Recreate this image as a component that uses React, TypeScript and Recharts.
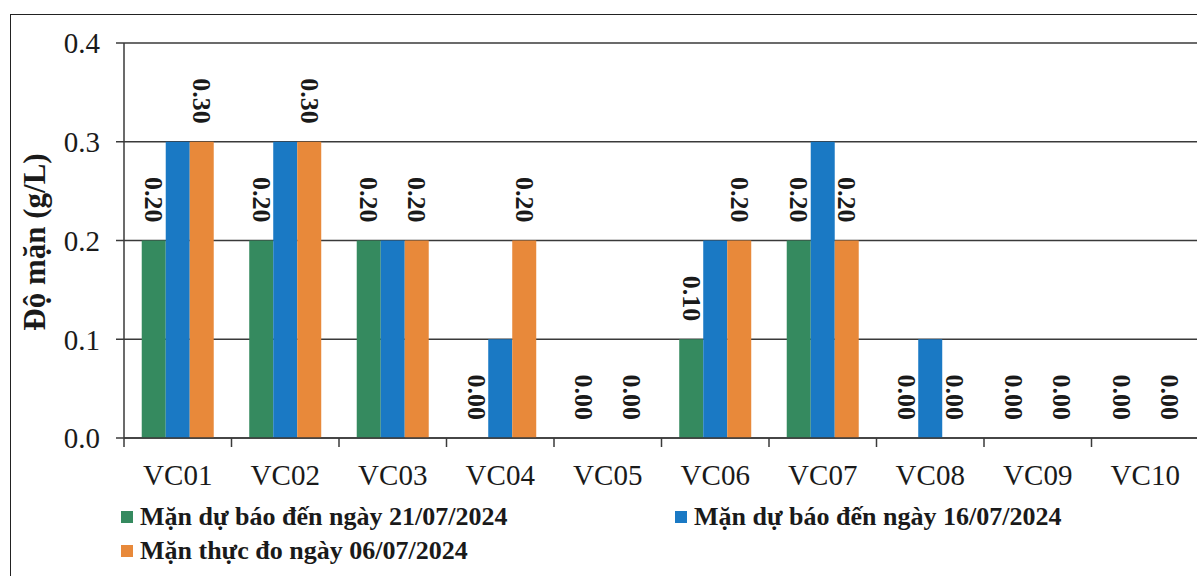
import { BarChart, Bar, XAxis, YAxis, CartesianGrid, LabelList } from "recharts";

const categories = ["VC01", "VC02", "VC03", "VC04", "VC05", "VC06", "VC07", "VC08", "VC09", "VC10"];
const forecast21 = [0.2, 0.2, 0.2, 0, 0, 0.1, 0.2, 0, 0, 0];
const forecast16 = [0.3, 0.3, 0.2, 0.1, 0, 0.2, 0.3, 0.1, 0, 0];
const measured06 = [0.3, 0.3, 0.2, 0.2, 0, 0.2, 0.2, 0, 0, 0];
const yTicks = [0, 0.1, 0.2, 0.3, 0.4];

const seriesNames = {
  g: "Mặn dự báo đến ngày 21/07/2024",
  b: "Mặn dự báo đến ngày 16/07/2024",
  o: "Mặn thực đo ngày 06/07/2024",
};

const C = {
  green: "#358a5f",
  blue: "#1a79c4",
  orange: "#e8893a",
  line: "#3a3a3a",
  text: "#1a1a1a",
};

const FONT = "'Liberation Serif', 'Times New Roman', serif";
const CHART_W = 1199;
const Y_W = 124;
const BAND = (CHART_W - Y_W) / categories.length;

const data = categories.map((name, i) => ({
  name,
  g: forecast21[i],
  b: forecast16[i],
  o: measured06[i],
}));

// rotated value label sitting above the bar, reading top to bottom
const renderValue = (props: any) => {
  const { x, y, width, value } = props;
  const cx = Number(x) + Number(width) / 2;
  const ty = Number(y) - 18;
  return (
    <text
      x={cx}
      y={ty}
      transform={`rotate(90, ${cx}, ${ty})`}
      textAnchor="end"
      dominantBaseline="central"
      fontFamily={FONT}
      fontWeight={700}
      fontSize={26}
      fill={C.text}
    >
      {Number(value).toFixed(2)}
    </text>
  );
};

// category label plus the tick marks on the band edges
const CatTick = (props: any) => {
  const { x, payload, index } = props;
  const axisY = 438;
  const left = x - BAND / 2;
  return (
    <g>
      <line x1={left} x2={left} y1={axisY} y2={axisY + 9} stroke={C.line} strokeWidth={1.5} />
      {index === categories.length - 1 && (
        <line x1={x + BAND / 2} x2={x + BAND / 2} y1={axisY} y2={axisY + 9} stroke={C.line} strokeWidth={1.5} />
      )}
      <text x={x} y={axisY + 47} textAnchor="middle" fontFamily={FONT} fontSize={29} fill={C.text}>
        {payload.value}
      </text>
    </g>
  );
};

const LegendItem = ({ color, label, left, top }: { color: string; label: string; left: number; top: number }) => (
  <div style={{ position: "absolute", left, top, display: "flex", alignItems: "center", whiteSpace: "nowrap" }}>
    <div style={{ width: 12, height: 12, background: color, marginRight: 7 }} />
    <span style={{ fontFamily: FONT, fontWeight: 700, fontSize: 26, color: C.text, lineHeight: "30px" }}>{label}</span>
  </div>
);

export default function App() {
  return (
    <div style={{ position: "absolute", left: 0, top: 0, width: 1197, height: 576, overflow: "hidden", background: "#fff" }}>
      {/* frame */}
      <div style={{ position: "absolute", left: 10, top: 14, width: 1300, height: 700, borderLeft: "1.5px solid #222", borderTop: "1.5px solid #222" }} />

      <div style={{ position: "absolute", left: 0, top: 0 }}>
        <BarChart
          width={CHART_W}
          height={576}
          data={data}
          margin={{ top: 43, right: 0, left: 0, bottom: 88 }}
          barCategoryGap="16.5%"
          barGap={0}
        >
          <CartesianGrid vertical={false} stroke={C.line} strokeWidth={1.5} />
          <XAxis
            dataKey="name"
            height={50}
            axisLine={{ stroke: C.line, strokeWidth: 1.5 }}
            tickLine={false}
            interval={0}
            tick={<CatTick />}
          />
          <YAxis
            width={Y_W}
            domain={[0, 0.4]}
            ticks={yTicks}
            tickFormatter={(v: number) => v.toFixed(1)}
            tickSize={8}
            tickMargin={16}
            axisLine={{ stroke: C.line, strokeWidth: 1.5 }}
            tickLine={{ stroke: C.line, strokeWidth: 1.5 }}
            tick={{ fontFamily: FONT, fontSize: 29, fill: C.text }}
          />
          <Bar dataKey="g" fill={C.green} minPointSize={0.01} isAnimationActive={false}>
            <LabelList dataKey="g" content={renderValue} />
          </Bar>
          <Bar dataKey="b" fill={C.blue} isAnimationActive={false} />
          <Bar dataKey="o" fill={C.orange} minPointSize={0.01} isAnimationActive={false}>
            <LabelList dataKey="o" content={renderValue} />
          </Bar>
        </BarChart>
      </div>

      {/* y axis title */}
      <div
        style={{
          position: "absolute",
          left: 35,
          top: 242,
          transform: "translate(-50%, -50%) rotate(-90deg)",
          fontFamily: FONT,
          fontWeight: 700,
          fontSize: 31,
          color: C.text,
          whiteSpace: "nowrap",
        }}
      >
        Độ mặn (g/L)
      </div>

      <LegendItem color={C.green} label={seriesNames.g} left={121} top={502} />
      <LegendItem color={C.blue} label={seriesNames.b} left={675} top={502} />
      <LegendItem color={C.orange} label={seriesNames.o} left={121} top={536} />
    </div>
  );
}
